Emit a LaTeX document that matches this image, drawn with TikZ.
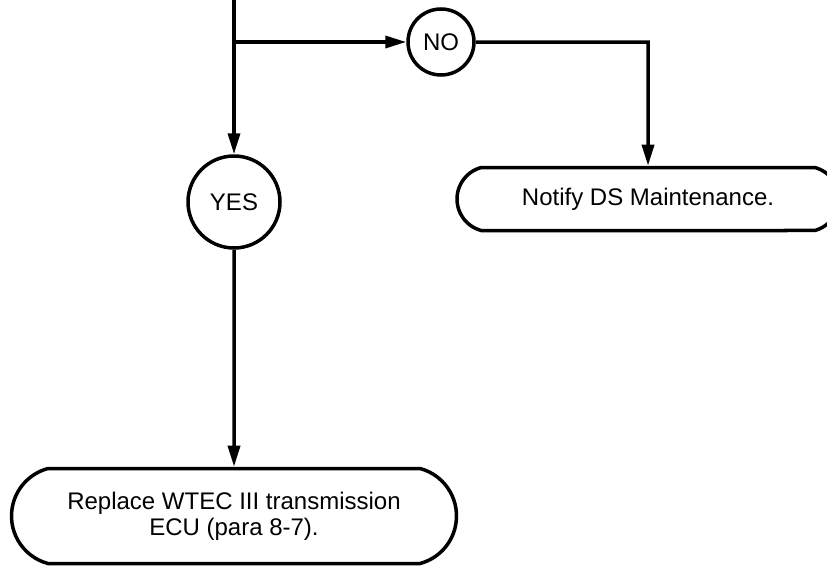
\documentclass[tikz,border=0pt]{standalone}
\usepackage{fontspec}
\setmainfont{Liberation Sans}
\usetikzlibrary{positioning,shapes.misc,arrows.meta}

\begin{document}
\begin{tikzpicture}[x=1pt, y=-1pt, line width=3.5pt,
    >={Triangle[length=21pt,width=12pt]},
    answer/.style={draw, circle, inner sep=0pt, font=\fontsize{24}{26}\selectfont},
    action/.style={draw, rounded rectangle, rounded rectangle arc length=150,
        inner sep=0pt, align=center, font=\fontsize{24}{26}\selectfont}]
    % 1. Page frame, the action box on the right runs past the edge
    \useasboundingbox (0,0) rectangle (827,565);
    \clip (0,0) rectangle (827,565);

    % 2. Decision points
    \coordinate (top) at (234,0);
    \coordinate (split) at (234,42);
    \coordinate (corner) at (648,42);
    \node[answer, minimum size=66pt] (no) at (441,42) {NO};
    \node[answer, minimum size=92pt] (yes) at (234,202) {YES};

    % 3. Action boxes
    \node[action, minimum width=382pt, minimum height=63pt] (notify) at (648,199)
        {Notify DS Maintenance.};
    \node[action, minimum width=445pt, minimum height=95pt] (replace) at (234,516)
        {Replace WTEC III transmission\\ECU (para 8-7).};

    % 4. Flow lines
    \draw[->] (top) -- (yes);
    \draw[->] (split) -- (no);
    \draw[->] (no) -- (corner) -- (notify);
    \draw[->] (yes) -- (replace);
\end{tikzpicture}
\end{document}
